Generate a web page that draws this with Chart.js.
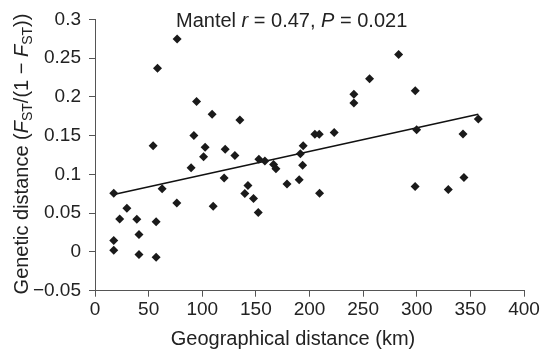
<!DOCTYPE html>
<html>
<head>
<meta charset="utf-8">
<script src="https://cdn.jsdelivr.net/npm/chart.js@4.4.1/dist/chart.umd.min.js"></script>
<style>
  html, body { margin: 0; padding: 0; background: #fff; }
  #wrap { position: relative; width: 540px; height: 351px; }
</style>
</head>
<body>
<div id="wrap"><canvas id="mantelChart"></canvas></div>
<script>
// Data
const distKm = [
  17.5, 17.5, 17.5, 23, 29.7, 39, 41, 41, 57, 57,
  54.2, 58.3, 62.6, 76.3, 76.6, 89.6, 92.2, 94.7, 101.2, 102.7,
  109.2, 110.2, 120.4, 121.4, 130.4, 135.1, 139.7, 142.6, 147.8, 152.2,
  152.8, 158.4, 166.5, 168.7, 179, 190.4, 191.5, 193.6, 194.1, 205,
  209.1, 209.4, 223, 241.4, 241.4, 256, 283.1, 298.6, 299.9, 298.5,
  329.4, 343.1, 344, 357.4
];
const geneticDist = [
  0.0758, 0.0148, 0.0022, 0.0425, 0.0564, 0.042, 0.0226, -0.0034, 0.039, -0.0069,
  0.137, 0.2369, 0.0814, 0.0632, 0.2745, 0.1087, 0.150, 0.194, 0.1226, 0.135,
  0.1775, 0.059, 0.0955, 0.1325, 0.1243, 0.170, 0.0753, 0.0857, 0.0689, 0.0507,
  0.1195, 0.1174, 0.1126, 0.1074, 0.0877, 0.093, 0.1265, 0.1117, 0.137, 0.1516,
  0.1516, 0.0758, 0.154, 0.2035, 0.192, 0.2234, 0.2545, 0.2078, 0.1576, 0.0844,
  0.0805, 0.152, 0.0961, 0.1714
];
// regression line end points
const trendKm = [17.5, 357.4];
const trendFit = [0.074, 0.1775];

const xTicks = [0, 50, 100, 150, 200, 250, 300, 350, 400];
const yTicks = [-0.05, 0, 0.05, 0.1, 0.15, 0.2, 0.25, 0.3];

const mantelR = '0.47';
const mantelP = '0.021';
const xTitle = 'Geographical distance (km)';

const FONT = "'Liberation Sans', Arial, sans-serif";
const INK = '#222';
const AXIS = '#555';

// small helper: draw a run of text pieces with their own font / offset
function drawRuns(ctx, runs, x, y) {
  let cx = x;
  runs.forEach(r => {
    ctx.font = r.font;
    ctx.fillText(r.text, cx, y + (r.dy || 0));
    cx += ctx.measureText(r.text).width;
  });
  return cx;
}
function runsWidth(ctx, runs) {
  let w = 0;
  runs.forEach(r => { ctx.font = r.font; w += ctx.measureText(r.text).width; });
  return w;
}

const normal = `20px ${FONT}`;
const italic = `italic 20px ${FONT}`;
const sub = `14px ${FONT}`;

const labelsPlugin = {
  id: 'labels',
  afterDraw(chart) {
    const ctx = chart.ctx;
    const area = chart.chartArea;
    ctx.save();
    ctx.fillStyle = INK;
    ctx.textBaseline = 'alphabetic';
    ctx.textAlign = 'left';

    // Mantel annotation
    drawRuns(ctx, [
      { text: 'Mantel ', font: normal },
      { text: 'r', font: italic },
      { text: ' = ' + mantelR + ', ', font: normal },
      { text: 'P', font: italic },
      { text: ' = ' + mantelP, font: normal }
    ], 176, 27);

    // x axis title (sits a little left of the plot centre in the original)
    ctx.font = normal;
    ctx.textAlign = 'center';
    ctx.fillText(xTitle, 293, 345);
    ctx.textAlign = 'left';

    // y axis title, rotated
    const yRuns = [
      { text: 'Genetic distance (', font: normal },
      { text: 'F', font: italic },
      { text: 'ST', font: sub, dy: 4 },
      { text: '/(1 \u2212 ', font: normal },
      { text: 'F', font: italic },
      { text: 'ST', font: sub, dy: 4 },
      { text: '))', font: normal }
    ];
    const w = runsWidth(ctx, yRuns);
    ctx.translate(27.5, 154);
    ctx.rotate(-Math.PI / 2);
    drawRuns(ctx, yRuns, -w / 2, 0);
    ctx.restore();
  }
};

const ctx = document.getElementById('mantelChart').getContext('2d');
new Chart(ctx, {
  type: 'scatter',
  data: {
    datasets: [
      {
        label: 'pairs',
        data: distKm.map((x, i) => ({ x: x, y: geneticDist[i] })),
        pointStyle: 'rectRot',
        pointRadius: 4.5,
        pointBorderWidth: 0,
        backgroundColor: '#1a1a1a',
        borderColor: '#1a1a1a',
        order: 1
      },
      {
        type: 'line',
        label: 'fit',
        data: trendKm.map((x, i) => ({ x: x, y: trendFit[i] })),
        borderColor: '#111',
        borderWidth: 1.6,
        pointRadius: 0,
        fill: false,
        order: 2
      }
    ]
  },
  options: {
    responsive: true,
    maintainAspectRatio: false,
    animation: false,
    layout: { padding: 0 },
    plugins: {
      legend: { display: false },
      tooltip: { enabled: false }
    },
    scales: {
      x: {
        type: 'linear',
        min: xTicks[0],
        max: xTicks[xTicks.length - 1],
        afterBuildTicks: s => { s.ticks = xTicks.map(v => ({ value: v })); },
        afterFit: s => { s.height = 60.3; s.paddingLeft = 0; s.paddingRight = 16; },
        grid: { drawOnChartArea: false, drawTicks: true, tickLength: 6, color: AXIS, lineWidth: 1 },
        border: { display: true, color: AXIS, width: 1 },
        ticks: { color: INK, font: { family: FONT, size: 19 }, padding: 2, maxRotation: 0 }
      },
      y: {
        type: 'linear',
        min: yTicks[0],
        max: yTicks[yTicks.length - 1],
        afterBuildTicks: s => { s.ticks = yTicks.map(v => ({ value: v })); },
        afterFit: s => { s.width = 95; s.paddingTop = 19.3; s.paddingBottom = 0; },
        grid: { drawOnChartArea: false, drawTicks: true, tickLength: 6, color: AXIS, lineWidth: 1 },
        border: { display: true, color: AXIS, width: 1 },
        ticks: {
          color: INK,
          font: { family: FONT, size: 19 },
          padding: 8,
          callback: v => String(parseFloat(v.toFixed(2))).replace('-', '\u2212')
        }
      }
    }
  },
  plugins: [labelsPlugin]
});
</script>
</body>
</html>
